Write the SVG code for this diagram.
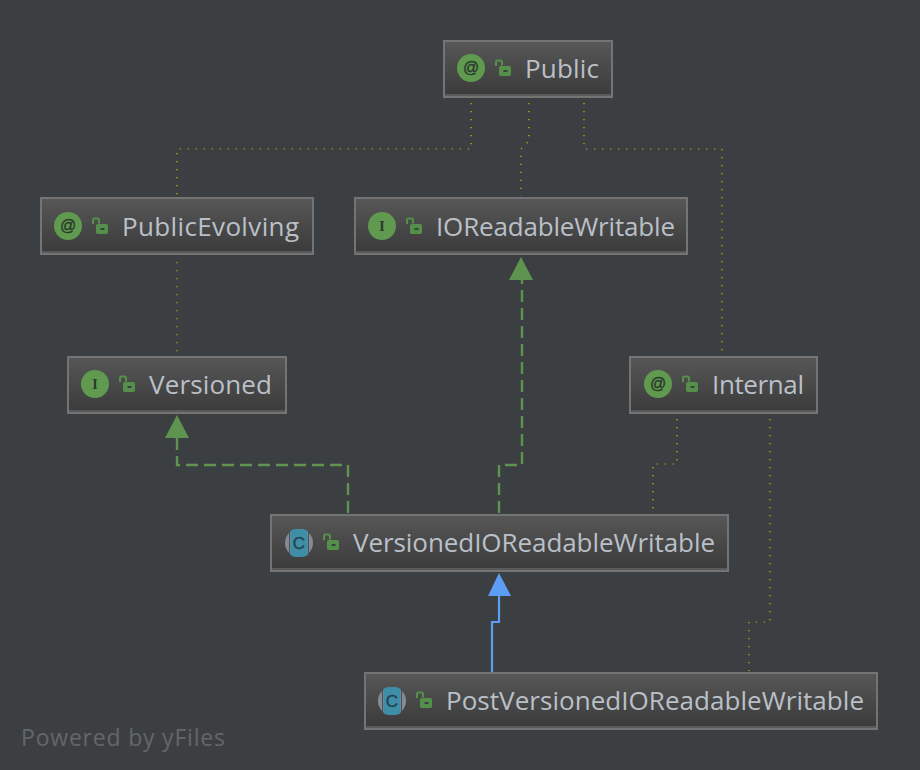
<svg xmlns="http://www.w3.org/2000/svg" width="920" height="770" viewBox="0 0 920 770">
<style>
.bg{fill:#3c3f41}
.box{fill:url(#g);stroke:#747474;stroke-width:2}
.band{fill:#5a5a5a}
.t{font-family:"Open Sans","Liberation Sans",sans-serif;font-size:26px;fill:#bac0c8}
.ic{font-family:"Liberation Sans",sans-serif;font-size:16px;fill:#2b3a2a;stroke:#2b3a2a;stroke-width:.4;text-anchor:middle}
.ii{font-family:"Liberation Serif",serif;font-size:14px;font-weight:bold;fill:#2b3a2a;text-anchor:middle}
.cc{font-family:"Liberation Sans",sans-serif;font-size:17px;fill:#23404f;stroke:#23404f;stroke-width:.3;text-anchor:middle}
.dot{fill:none;stroke:#c4c400;stroke-width:1.2;stroke-dasharray:1.2 6.8}
.dot2{fill:none;stroke:#a8b030;stroke-width:1.2;stroke-dasharray:1.2 6.8}
.dash{fill:none;stroke:#5f9350;stroke-width:2.4;stroke-dasharray:12 6}
.solid{fill:none;stroke:#5c9df5;stroke-width:2.2}
.wm{font-family:"Open Sans","Liberation Sans",sans-serif;font-size:23px;fill:#63676a}
</style>
<defs>
<linearGradient id="g" x1="0" y1="0" x2="0" y2="1"><stop offset="0" stop-color="#575757"/><stop offset="1" stop-color="#3a3a3a"/></linearGradient>
<g id="lock"><path d="M-8 -3V-7Q-8 -8.500 -6.500 -8.500H-3.500Q-2 -8.500 -2 -7V-3.500" fill="none" stroke="#54904a" stroke-width="2"/><rect x="-5" y="-3" width="12" height="10" rx="1.800" fill="#54904a"/><rect x="-0.500" y="1" width="4" height="2" fill="#3c3f41"/></g>
<g id="cicon"><circle r="14" fill="#858b94"/><path d="M-8.500 -11.500Q-8.500 -13.800 0 -14Q8.500 -13.800 8.500 -11.500V11.500Q8.500 13.800 0 14Q-8.500 13.800 -8.500 11.500Z" fill="#3f8ea8"/><path d="M-9.500 -11V11M9.500 -11V11" stroke="#4a4f55" stroke-width="1" fill="none"/></g>
</defs>
<rect class="bg" width="920" height="770"/>
<g id="connectors">
<path class="dot" d="M471 103V149H177V196"/>
<path class="dot" d="M529 103V141L521 149V196"/>
<path class="dot" d="M584 103V149H722V354"/>
<path class="dot2" d="M177 262V354"/>
<path class="dot" d="M677 419V464H653V513"/>
<path class="dot" d="M770 419V622H749V671"/>
<path class="dash" d="M348 513V465H177V438"/>
<polygon points="177,415 165,438 189,438" fill="#5f9350"/>
<path class="dash" d="M499 513V465H522V280"/>
<polygon points="521,257 509,280 533,280" fill="#5f9350"/>
<path class="solid" d="M492 672V622H499V596"/>
<polygon points="499,573 488,596 511,596" fill="#5c9df5"/>
</g>
<g id="public"><rect class="box" x="444" y="41" width="168" height="56"/><rect class="band" x="445" y="94" width="166" height="2"/><circle cx="471" cy="68" r="14" fill="#5f9a50"/><text class="ic" x="471" y="73">@</text><use href="#lock" x="504" y="69"/><text class="t" x="525" y="78" textLength="74" lengthAdjust="spacing">Public</text></g>
<g id="publicevolving"><rect class="box" x="41" y="198" width="272" height="56"/><rect class="band" x="42" y="251" width="270" height="2"/><circle cx="68" cy="226" r="14" fill="#5f9a50"/><text class="ic" x="68" y="231">@</text><use href="#lock" x="101" y="227"/><text class="t" x="122" y="236" textLength="177" lengthAdjust="spacing">PublicEvolving</text></g>
<g id="ioreadablewritable"><rect class="box" x="355" y="198" width="332" height="56"/><rect class="band" x="356" y="251" width="330" height="2"/><circle cx="382" cy="226" r="14" fill="#5f9a50"/><text class="ii" x="382" y="231">I</text><use href="#lock" x="415" y="227"/><text class="t" x="436" y="236" textLength="239" lengthAdjust="spacing">IOReadableWritable</text></g>
<g id="versioned"><rect class="box" x="68" y="357" width="218" height="56"/><rect class="band" x="69" y="410" width="216" height="2"/><circle cx="95" cy="384" r="14" fill="#5f9a50"/><text class="ii" x="95" y="389">I</text><use href="#lock" x="128" y="385"/><text class="t" x="149" y="394" textLength="123" lengthAdjust="spacing">Versioned</text></g>
<g id="internal"><rect class="box" x="630" y="357" width="187" height="56"/><rect class="band" x="631" y="410" width="185" height="2"/><circle cx="658" cy="384" r="14" fill="#5f9a50"/><text class="ic" x="658" y="389">@</text><use href="#lock" x="691" y="385"/><text class="t" x="712" y="394" textLength="92" lengthAdjust="spacing">Internal</text></g>
<g id="versionedioreadablewritable"><rect class="box" x="271" y="515" width="457" height="56"/><rect class="band" x="272" y="568" width="455" height="2"/><use href="#cicon" x="299" y="543"/><text class="cc" x="299" y="549">C</text><use href="#lock" x="332" y="543"/><text class="t" x="353" y="552" textLength="362" lengthAdjust="spacing">VersionedIOReadableWritable</text></g>
<g id="postversionedioreadablewritable"><rect class="box" x="365" y="673" width="512" height="56"/><rect class="band" x="366" y="726" width="510" height="2"/><use href="#cicon" x="392" y="701"/><text class="cc" x="392" y="707">C</text><use href="#lock" x="425" y="701"/><text class="t" x="446" y="710" textLength="418" lengthAdjust="spacing">PostVersionedIOReadableWritable</text></g>
<text class="wm" x="21" y="746" textLength="204" lengthAdjust="spacing">Powered by yFiles</text>
</svg>
